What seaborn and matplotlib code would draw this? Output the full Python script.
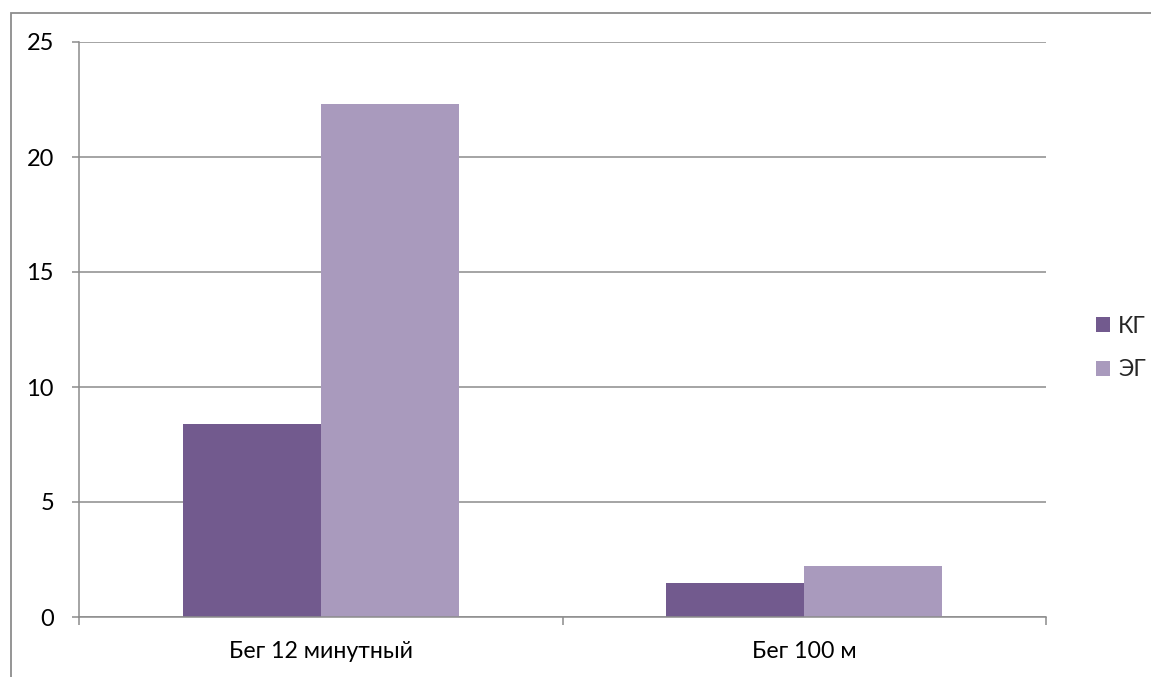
import matplotlib
matplotlib.use("Agg")
import matplotlib.pyplot as plt
from matplotlib.patches import Rectangle
import seaborn as sns
import pandas as pd

# Results by test and group
categories = ["Бег 12 минутный", "Бег 100 м"]
groups = ["КГ", "ЭГ"]
kg_values = [8.4, 1.5]
eg_values = [22.3, 2.2]
y_ticks = [0, 5, 10, 15, 20, 25]

colors = {"КГ": "#725A8E", "ЭГ": "#A99ABD"}
grid_color = "#8C8C8C"

df = pd.DataFrame({
    "test": categories * 2,
    "group": ["КГ"] * len(categories) + ["ЭГ"] * len(categories),
    "value": kg_values + eg_values,
})

sns.set_theme(style="white")
plt.rcParams["font.family"] = ["Lato", "DejaVu Sans"]

W, H = 1151, 677
fig = plt.figure(figsize=(W / 100, H / 100), dpi=100)
ax = fig.add_axes([79 / W, 1 - 617 / H, (1046 - 79) / W, (617 - 42) / H])

sns.barplot(data=df, x="test", y="value", hue="group", order=categories,
            hue_order=groups, palette=colors, width=0.571, gap=0,
            saturation=1, edgecolor="none", linewidth=0, ax=ax, legend=True)

ax.set_xlim(-0.5, 1.5)
ax.set_ylim(0, 25)
ax.set_yticks(y_ticks)
ax.set_xlabel("")
ax.set_ylabel("")

# horizontal gridlines
ax.yaxis.grid(True, color=grid_color, linewidth=1.1)
ax.set_axisbelow(True)

for side in ["top", "right"]:
    ax.spines[side].set_visible(False)
for side in ["left", "bottom"]:
    ax.spines[side].set_color(grid_color)
    ax.spines[side].set_linewidth(1.1)

ax.tick_params(axis="y", which="major", direction="out", length=5,
               width=1.1, color=grid_color, pad=13, labelsize=17,
               labelcolor="black", left=True)
ax.tick_params(axis="x", which="major", length=0, pad=17, labelsize=16.7,
               labelcolor="black")
ax.set_xticks([-0.5, 0.5, 1.5], minor=True)
ax.tick_params(axis="x", which="minor", direction="out", length=6,
               width=1.1, color=grid_color, bottom=True)

# legend to the right of the plot
handles, labels = ax.get_legend_handles_labels()
ax.legend(handles, labels, loc="center left",
          bbox_to_anchor=(1087 / W, 1 - 348 / H),
          bbox_transform=fig.transFigure, frameon=False,
          fontsize=16.5, handlelength=0.6, handleheight=0.6,
          handletextpad=0.35, labelspacing=1.0, borderaxespad=0)

# outer chart frame
fig.patches.append(Rectangle((11 / W, -0.2), 1.2, 1.2 - 13 / H,
                             transform=fig.transFigure, fill=False,
                             edgecolor=grid_color, linewidth=1.3))

fig.savefig("out.png", dpi=100)
